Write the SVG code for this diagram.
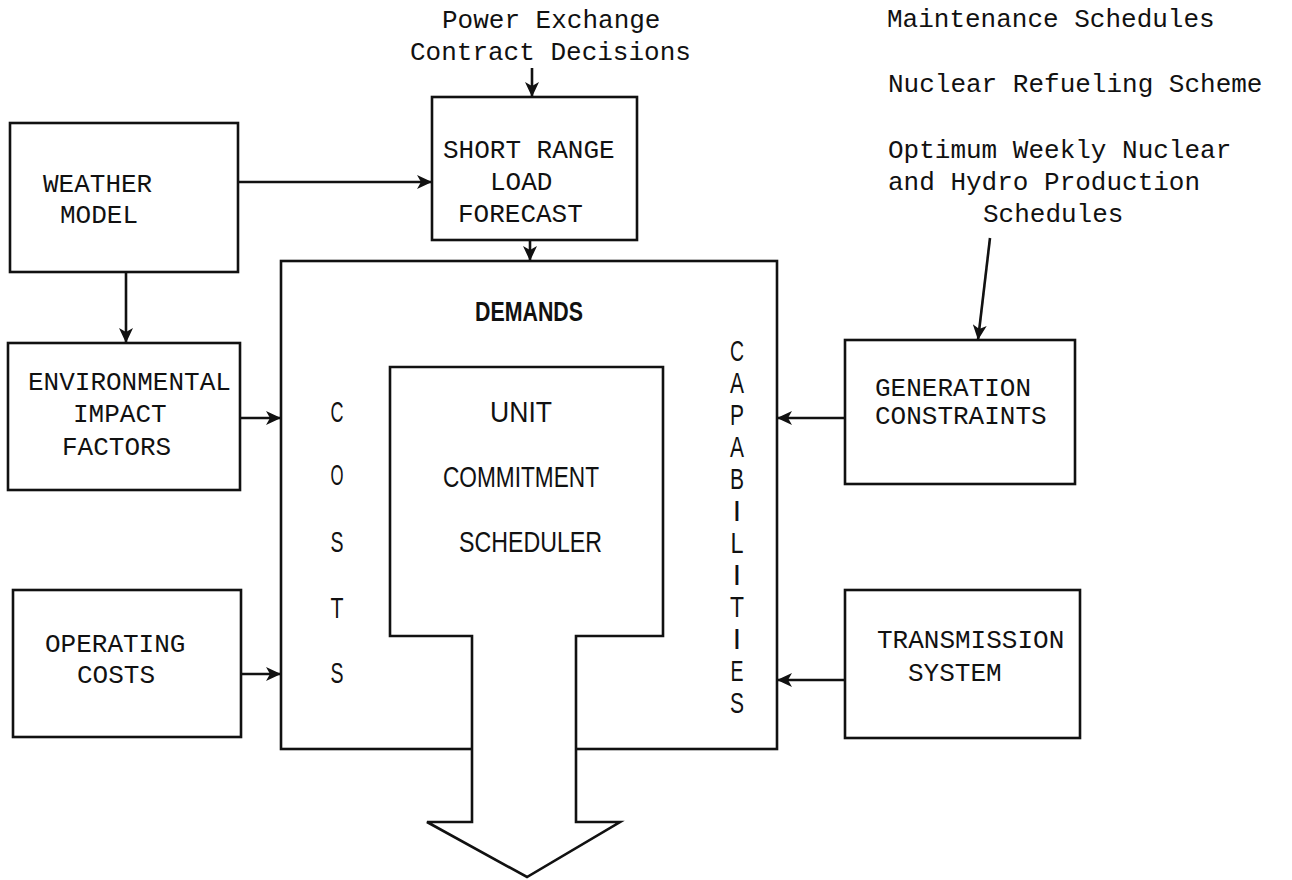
<svg xmlns="http://www.w3.org/2000/svg" width="1292" height="880" viewBox="0 0 1292 880">
  <style>
    .box { fill: none; stroke: #111; stroke-width: 2.6; stroke-linejoin: miter; }
    .wire { fill: none; stroke: #111; stroke-width: 2.6; }
    .tw { font-family: "Liberation Mono", "Courier New", monospace; font-size: 26px; fill: #111; }
    .sans { font-family: "Liberation Sans", Arial, sans-serif; font-size: 30px; fill: #111; }
    .bold { font-family: "Liberation Sans", Arial, sans-serif; font-size: 27px; font-weight: bold; fill: #111; }
  </style>
  <defs>
    <marker id="head" markerUnits="userSpaceOnUse" markerWidth="16" markerHeight="14" refX="15" refY="7" orient="auto">
      <path d="M0,0 L15,7 L0,14 L4,7 Z" fill="#111"/>
    </marker>
  </defs>
  <rect width="1292" height="880" fill="#fff"/>

  <!-- external inputs printed as plain notes -->
  <g id="notes" class="tw">
    <text x="442" y="28">Power Exchange</text>
    <text x="410" y="60">Contract Decisions</text>
    <text x="887" y="27">Maintenance Schedules</text>
    <text x="888" y="92">Nuclear Refueling Scheme</text>
    <text x="888" y="158">Optimum Weekly Nuclear</text>
    <text x="888" y="190">and Hydro Production</text>
    <text x="983" y="222">Schedules</text>
  </g>

  <g id="weather-model">
    <rect class="box" x="10" y="123" width="228" height="149"/>
    <text class="tw" x="43" y="192">WEATHER</text>
    <text class="tw" x="60" y="223">MODEL</text>
  </g>

  <g id="short-range-load-forecast">
    <rect class="box" x="432" y="97" width="205" height="143"/>
    <text class="tw" x="443" y="158">SHORT RANGE</text>
    <text class="tw" x="490" y="190">LOAD</text>
    <text class="tw" x="458" y="222">FORECAST</text>
  </g>

  <g id="environmental-impact-factors">
    <rect class="box" x="8" y="343" width="232" height="147"/>
    <text class="tw" x="28" y="390">ENVIRONMENTAL</text>
    <text class="tw" x="73" y="422">IMPACT</text>
    <text class="tw" x="62" y="455">FACTORS</text>
  </g>

  <g id="operating-costs">
    <rect class="box" x="13" y="590" width="228" height="147"/>
    <text class="tw" x="45" y="652">OPERATING</text>
    <text class="tw" x="77" y="683">COSTS</text>
  </g>

  <g id="generation-constraints">
    <rect class="box" x="845" y="340" width="230" height="144"/>
    <text class="tw" x="875" y="396">GENERATION</text>
    <text class="tw" x="875" y="424">CONSTRAINTS</text>
  </g>

  <g id="transmission-system">
    <rect class="box" x="845" y="590" width="235" height="148"/>
    <text class="tw" x="877" y="648">TRANSMISSION</text>
    <text class="tw" x="908" y="681">SYSTEM</text>
  </g>

  <!-- scheduler frame: demands / costs / capabilities around the unit commitment block -->
  <g id="unit-commitment-scheduler">
    <rect class="box" x="281" y="261" width="496" height="488"/>
    <path class="box" style="fill:#fff" d="M390,367 L663,367 L663,636 L576,636 L576,822 L620,822 L527,877 L427,822 L472,822 L472,636 L390,636 Z"/>
    <text class="bold" x="529" y="321" text-anchor="middle" textLength="108" lengthAdjust="spacingAndGlyphs">DEMANDS</text>
    <text class="sans" x="490" y="422" textLength="62" lengthAdjust="spacingAndGlyphs">UNIT</text>
    <text class="sans" x="443" y="487" textLength="156" lengthAdjust="spacingAndGlyphs">COMMITMENT</text>
    <text class="sans" x="459" y="552" textLength="143" lengthAdjust="spacingAndGlyphs">SCHEDULER</text>
    <g class="sans" text-anchor="middle">
      <text x="337" y="422" textLength="13" lengthAdjust="spacingAndGlyphs">C</text>
      <text x="337" y="485" textLength="13" lengthAdjust="spacingAndGlyphs">O</text>
      <text x="337" y="552" textLength="13" lengthAdjust="spacingAndGlyphs">S</text>
      <text x="337" y="618" textLength="13" lengthAdjust="spacingAndGlyphs">T</text>
      <text x="337" y="683" textLength="13" lengthAdjust="spacingAndGlyphs">S</text>
    </g>
    <g class="sans" text-anchor="middle">
      <text x="737" y="361" textLength="14" lengthAdjust="spacingAndGlyphs">C</text>
      <text x="737" y="393" textLength="14" lengthAdjust="spacingAndGlyphs">A</text>
      <text x="737" y="425" textLength="14" lengthAdjust="spacingAndGlyphs">P</text>
      <text x="737" y="457" textLength="14" lengthAdjust="spacingAndGlyphs">A</text>
      <text x="737" y="489" textLength="14" lengthAdjust="spacingAndGlyphs">B</text>
      <text x="737" y="521">I</text>
      <text x="737" y="553" textLength="13" lengthAdjust="spacingAndGlyphs">L</text>
      <text x="737" y="585">I</text>
      <text x="737" y="617" textLength="14" lengthAdjust="spacingAndGlyphs">T</text>
      <text x="737" y="649">I</text>
      <text x="737" y="681" textLength="13" lengthAdjust="spacingAndGlyphs">E</text>
      <text x="737" y="713" textLength="14" lengthAdjust="spacingAndGlyphs">S</text>
    </g>
  </g>

  <g id="connectors">
    <line class="wire" x1="532" y1="68" x2="532" y2="97" marker-end="url(#head)"/>
    <line class="wire" x1="238" y1="182" x2="432" y2="182" marker-end="url(#head)"/>
    <line class="wire" x1="530" y1="240" x2="530" y2="261" marker-end="url(#head)"/>
    <line class="wire" x1="126" y1="272" x2="126" y2="343" marker-end="url(#head)"/>
    <line class="wire" x1="240" y1="418" x2="281" y2="418" marker-end="url(#head)"/>
    <line class="wire" x1="241" y1="674" x2="281" y2="674" marker-end="url(#head)"/>
    <line class="wire" x1="990" y1="238" x2="978" y2="340" marker-end="url(#head)"/>
    <line class="wire" x1="845" y1="418" x2="777" y2="418" marker-end="url(#head)"/>
    <line class="wire" x1="845" y1="680" x2="777" y2="680" marker-end="url(#head)"/>
  </g>
</svg>
